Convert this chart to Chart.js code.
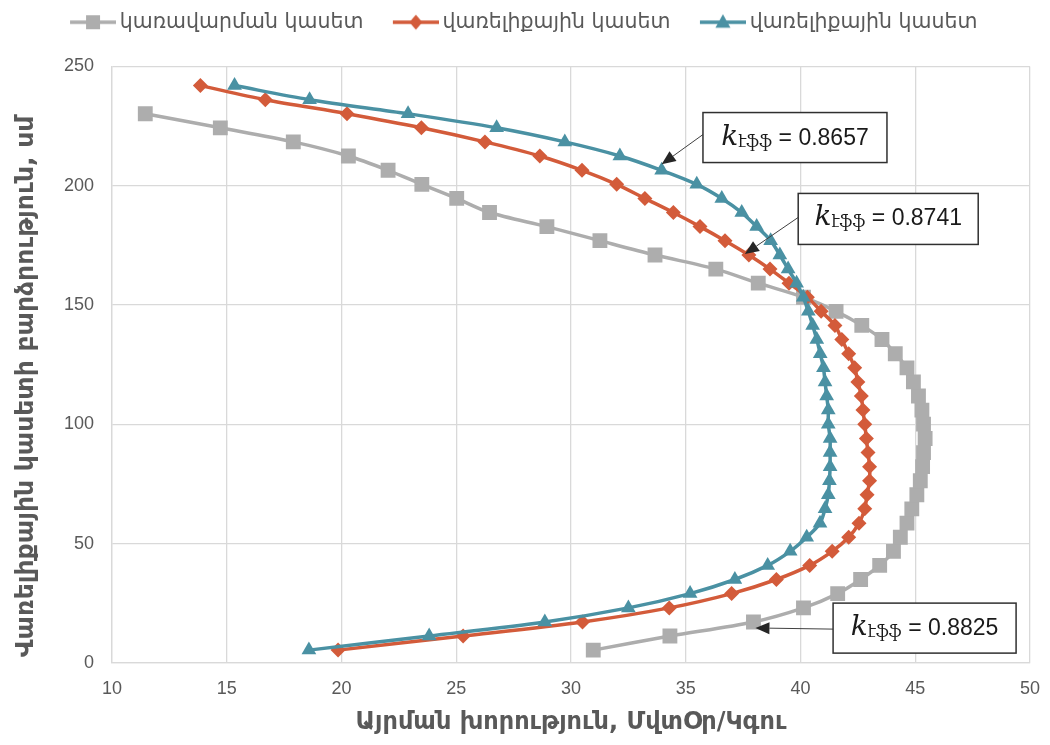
<!DOCTYPE html>
<html>
<head>
<meta charset="utf-8">
<script src="https://cdn.jsdelivr.net/npm/chart.js@4.4.1/dist/chart.umd.min.js"></script>
<style>
html,body{margin:0;padding:0;background:#ffffff;}
#wrap{width:1050px;height:745px;position:relative;}
</style>
</head>
<body>
<div id="wrap"><canvas id="c"></canvas></div>
<script>
// ---------------- DATA ----------------
const seriesNames = ['կառավարման կասետ', 'վառելիքային կասետ', 'վառելիքային կասետ'];
const xAxisTitle = 'Այրման խորություն, ՄվտՕր/Կգու';
const yAxisTitle = 'Վառելիքային կասետի բարձրություն, սմ';

const heightLevels = [5.4, 11.3, 17.2, 23.1, 29.1, 35.0, 40.9, 46.8, 52.7, 58.6,
  64.6, 70.5, 76.4, 82.3, 88.2, 94.1, 100.1, 106.0, 111.9, 117.8,
  123.7, 129.6, 135.6, 141.5, 147.4, 153.3, 159.2, 165.1, 171.0, 177.0,
  182.9, 188.8, 194.7, 200.6, 206.5, 212.5, 218.4, 224.3, 230.2, 236.1, 242.0];

// burnup values of each series, one per height level (from the bottom up)
const controlBurnup = [30.97, 34.31, 37.95, 40.13, 41.62, 42.62, 43.45, 44.05, 44.35, 44.64,
  44.85, 45.07, 45.22, 45.32, 45.36, 45.43, 45.36, 45.29, 45.14, 44.92,
  44.64, 44.13, 43.55, 42.67, 41.55, 40.13, 38.16, 36.31, 33.66, 31.26,
  28.95, 26.45, 25.02, 23.50, 22.03, 20.30, 17.90, 14.72, 11.45];

const fuelBurnupA = [19.85, 25.30, 30.50, 34.28, 37.00, 38.95, 40.40, 41.38, 42.10, 42.55,
  42.80, 42.90, 43.01, 43.01, 42.94, 42.87, 42.80, 42.72, 42.65, 42.50,
  42.36, 42.10, 41.80, 41.50, 40.90, 40.30, 39.50, 38.67, 37.75, 36.71,
  35.62, 34.46, 33.22, 31.99, 30.48, 28.64, 26.25, 23.48, 20.24, 16.68, 13.85];

const fuelBurnupB = [18.58, 23.82, 28.86, 32.50, 35.19, 37.14, 38.57, 39.55, 40.27, 40.85,
  41.07, 41.21, 41.26, 41.29, 41.29, 41.29, 41.21, 41.21, 41.14, 41.07,
  41.00, 40.86, 40.71, 40.53, 40.34, 40.12, 39.83, 39.46, 39.10, 38.70,
  38.09, 37.44, 36.57, 35.48, 33.95, 32.13, 29.73, 26.76, 22.90, 18.61, 15.34];

const xTickRange = [10, 50, 5];   // min, max, step
const yTickRange = [0, 250, 50];

const keffLabels = ['0.8657', '0.8741', '0.8825'];
const keffTargets = [[2, 34], [1, 28], [0, 2]]; // [series, level index]

// ---------------- STYLE / LAYOUT ----------------
const colors = ['#ADADAD', '#D35B3A', '#4A91A3'];
const markerStyles = ['rect', 'rectRot', 'triangle'];
const markerRadii = [10.5, 7.5, 8.5];
// annotation boxes: top-left corner in data units, size in px, arrow start offset, tip offset
const keffBoxLayout = [
  {x: 35.75, y: 230.7, w: 184, h: 50, ay: 22, tdx: 0, tdy: -6},
  {x: 39.90, y: 196.8, w: 180, h: 51, ay: 24, tdx: -4, tdy: -1},
  {x: 41.42, y: 25.1,  w: 183, h: 50, ay: 26, tdx: 2, tdy: 6}
];

const SANS = "'Liberation Sans', 'DejaVu Sans', sans-serif";
const ARM = "'DejaVu Sans', sans-serif";
const TXT = '#595959';

function pts(xs) { return xs.map((x, i) => ({x: x, y: heightLevels[i]})); }

function legendIcon(i) {
  const c = document.createElement('canvas');
  c.width = 70; c.height = 24;
  const g = c.getContext('2d');
  g.strokeStyle = colors[i]; g.fillStyle = colors[i]; g.lineWidth = 3.5;
  g.beginPath(); g.moveTo(24, 12); g.lineTo(70, 12); g.stroke();
  const cx = 47, cy = 12;
  g.beginPath();
  if (i === 0) { g.rect(cx - 7, cy - 7, 14, 14); }
  else if (i === 1) { g.moveTo(cx, cy - 7.5); g.lineTo(cx + 6.5, cy); g.lineTo(cx, cy + 7.5); g.lineTo(cx - 6.5, cy); g.closePath(); }
  else { g.moveTo(cx, cy - 8); g.lineTo(cx + 7.5, cy + 5.5); g.lineTo(cx - 7.5, cy + 5.5); g.closePath(); }
  g.fill();
  return c;
}

const datasets = [controlBurnup, fuelBurnupA, fuelBurnupB].map((arr, i) => ({
  label: seriesNames[i],
  data: pts(arr),
  showLine: true,
  borderColor: colors[i],
  backgroundColor: colors[i],
  borderWidth: 3.5,
  pointStyle: markerStyles[i],
  pointRadius: markerRadii[i],
  pointHoverRadius: markerRadii[i],
  pointBorderWidth: 0,
  pointBackgroundColor: colors[i],
  tension: 0.3,
  order: 3 - i
}));

const keffPlugin = {
  id: 'keff',
  afterDatasetsDraw(chart) {
    const g = chart.ctx;
    const xs = chart.scales.x, ys = chart.scales.y;
    keffLabels.forEach((val, i) => {
      const L = keffBoxLayout[i];
      const bx = xs.getPixelForValue(L.x), by = ys.getPixelForValue(L.y);
      const [si, pi] = keffTargets[i];
      const pt = chart.getDatasetMeta(si).data[pi];
      const tx = pt.x + L.tdx, ty = pt.y + L.tdy;
      const sx = bx, sy = by + L.ay;
      g.save();
      g.strokeStyle = '#404040'; g.fillStyle = '#262626'; g.lineWidth = 1;
      const ang = Math.atan2(ty - sy, tx - sx);
      const hl = 14, hw = 6;
      const hx = tx - Math.cos(ang) * hl, hy = ty - Math.sin(ang) * hl;
      g.beginPath(); g.moveTo(sx, sy); g.lineTo(hx, hy); g.stroke();
      g.beginPath();
      g.moveTo(tx, ty);
      g.lineTo(hx + Math.sin(ang) * hw, hy - Math.cos(ang) * hw);
      g.lineTo(hx - Math.sin(ang) * hw, hy + Math.cos(ang) * hw);
      g.closePath(); g.fill();
      g.fillStyle = '#ffffff';
      g.fillRect(bx, by, L.w, L.h);
      g.strokeStyle = '#303030'; g.lineWidth = 1.5;
      g.strokeRect(bx, by, L.w, L.h);
      const fk = "italic 28px 'DejaVu Serif', 'Liberation Serif', serif";
      const fs = "16px 'DejaVu Serif', 'DejaVu Sans', serif";
      const fv = "23px " + SANS;
      const rest = ' = ' + val;
      g.font = fk; const wk = g.measureText('k').width;
      g.font = fs; const ws = g.measureText('էֆֆ').width;
      g.font = fv; const wv = g.measureText(rest).width;
      const total = wk + ws + wv;
      let x0 = bx + (L.w - total) / 2;
      const base = by + 32;
      g.fillStyle = '#1a1a1a';
      g.textBaseline = 'alphabetic'; g.textAlign = 'left';
      g.font = fk; g.fillText('k', x0, base); x0 += wk;
      g.font = fs; g.fillText('էֆֆ', x0, base + 2); x0 += ws;
      g.font = fv; g.fillText(rest, x0, base);
      g.restore();
    });
  }
};

Chart.defaults.font.family = SANS;
Chart.defaults.color = TXT;

new Chart(document.getElementById('c'), {
  type: 'scatter',
  data: {datasets: datasets},
  options: {
    responsive: true,
    maintainAspectRatio: false,
    animation: false,
    devicePixelRatio: 1,
    layout: {padding: {left: 0, right: 20, top: 0, bottom: 0}},
    plugins: {
      tooltip: {enabled: false},
      legend: {
        position: 'top',
        labels: {
          usePointStyle: true,
          pointStyleWidth: 57,
          padding: 12,
          color: TXT,
          font: {size: 20.5, family: ARM},
          generateLabels(chart) {
            const items = Chart.defaults.plugins.legend.labels.generateLabels(chart);
            items.forEach((it) => { it.pointStyle = legendIcon(it.datasetIndex); it.fontColor = TXT; });
            items.sort((a, b) => a.datasetIndex - b.datasetIndex);
            return items;
          }
        }
      },
      subtitle: {display: true, text: '', weight: 500, position: 'top', font: {size: 12, lineHeight: 1}, padding: {top: 0, bottom: 12}}
    },
    scales: {
      x: {
        type: 'linear',
        min: xTickRange[0], max: xTickRange[1],
        ticks: {stepSize: xTickRange[2], font: {size: 18}, color: TXT, padding: 9},
        grid: {color: '#D9D9D9', lineWidth: 1.3, drawTicks: true, tickLength: 6, tickColor: 'rgba(0,0,0,0)'},
        border: {color: '#D9D9D9', width: 1.3},
        title: {display: true, text: xAxisTitle, color: TXT, font: {size: 24, weight: 'bold', family: ARM}, padding: {top: 8, bottom: 8}},
        afterFit(s) { s.height = 82; }
      },
      y: {
        type: 'linear',
        min: yTickRange[0], max: yTickRange[1],
        ticks: {stepSize: yTickRange[2], font: {size: 18}, color: TXT, padding: 18},
        grid: {color: '#D9D9D9', lineWidth: 1.3, drawTicks: false},
        border: {color: '#D9D9D9', width: 1.3},
        title: {display: true, text: yAxisTitle + '     ', color: TXT, font: {size: 25, weight: 'bold', family: ARM}, padding: {top: 11, bottom: 0}},
        afterFit(s) { s.width = 112; }
      }
    }
  },
  plugins: [keffPlugin]
});
</script>
</body>
</html>
